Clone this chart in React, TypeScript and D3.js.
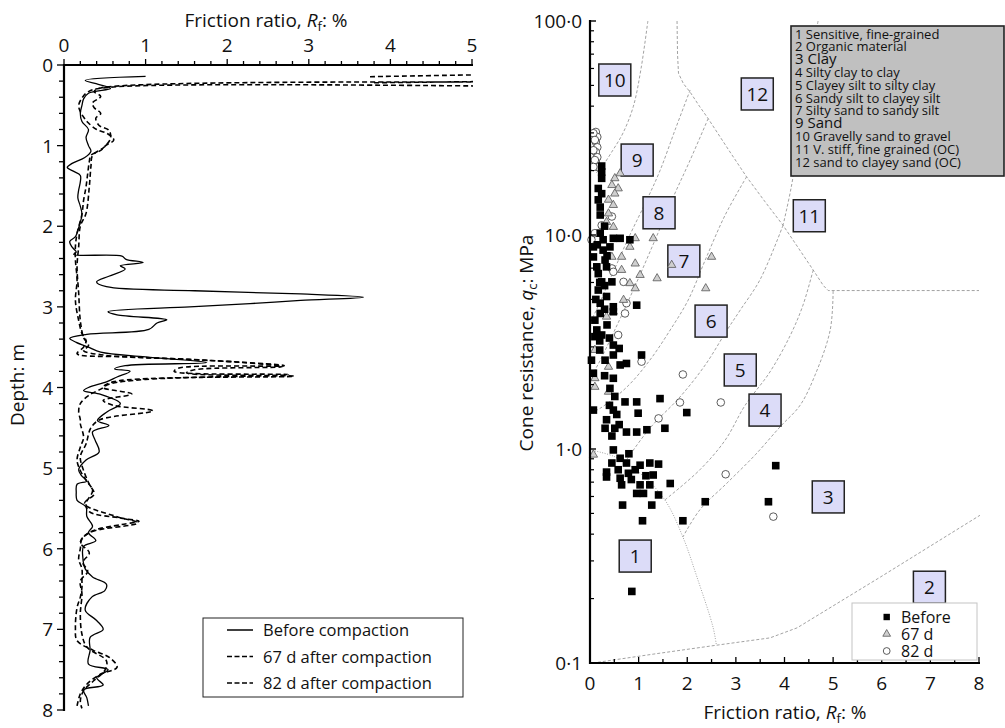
import React from 'react';
import * as d3 from 'd3';

type P = [number, number];

// ---------------- Left panel: friction ratio profiles [Rf %, depth m] ----------------
const beforeProfile: P[] = [
  [1.0, 0.14], [0.26, 0.19], [0.42, 0.24], [0.57, 0.29], [0.30, 0.35], [0.24, 0.42], [0.22, 0.5], [0.2, 0.6],
  [0.22, 0.7], [0.3, 0.8], [0.27, 0.9], [0.3, 1.0], [0.33, 1.07], [0.25, 1.15], [0.1, 1.22], [0.04, 1.27],
  [0.12, 1.32], [0.2, 1.37], [0.2, 1.45], [0.18, 1.55], [0.17, 1.65], [0.2, 1.75], [0.22, 1.85], [0.2, 1.95],
  [0.17, 2.05], [0.14, 2.13], [0.07, 2.19], [0.1, 2.26], [0.15, 2.32], [0.12, 2.35], [0.71, 2.37], [0.76, 2.41],
  [0.97, 2.45], [0.69, 2.49], [0.75, 2.53], [0.55, 2.62], [0.40, 2.69], [0.52, 2.75], [1.6, 2.8], [2.9, 2.84],
  [3.67, 2.88], [2.9, 2.92], [2.28, 2.96], [1.54, 3.0], [0.54, 3.06], [0.65, 3.1], [1.26, 3.16], [1.14, 3.2],
  [1.04, 3.28], [0.28, 3.34], [0.07, 3.39], [0.15, 3.44], [0.3, 3.5], [0.45, 3.56], [1.0, 3.62], [1.75, 3.69],
  [0.75, 3.73], [0.62, 3.77], [0.81, 3.8], [0.65, 3.87], [0.52, 3.93], [0.3, 4.0], [0.24, 4.04], [0.43, 4.08],
  [0.69, 4.2], [0.53, 4.3], [0.41, 4.41], [0.55, 4.47], [0.35, 4.55], [0.38, 4.65], [0.43, 4.8], [0.27, 4.9],
  [0.18, 5.02], [0.22, 5.1], [0.28, 5.16], [0.16, 5.2], [0.15, 5.3], [0.16, 5.4], [0.27, 5.48], [0.28, 5.6],
  [0.35, 5.72], [0.3, 5.8], [0.39, 5.9], [0.24, 5.97], [0.23, 6.1], [0.26, 6.25], [0.35, 6.35], [0.52, 6.44],
  [0.5, 6.52], [0.34, 6.6], [0.26, 6.76], [0.4, 6.89], [0.48, 7.0], [0.32, 7.1], [0.32, 7.26], [0.3, 7.43],
  [0.54, 7.5], [0.4, 7.6], [0.48, 7.69], [0.24, 7.75], [0.28, 7.85], [0.3, 7.95],
];

const after67Profile: P[] = [
  [3.75, 0.145], [40, 0.15], [40, 0.27], [0.57, 0.275], [0.30, 0.33], [0.22, 0.41], [0.18, 0.5], [0.2, 0.58],
  [0.25, 0.66], [0.3, 0.72], [0.4, 0.8], [0.53, 0.85], [0.61, 0.93], [0.51, 1.0], [0.45, 1.06], [0.33, 1.12],
  [0.31, 1.2], [0.29, 1.35], [0.27, 1.51], [0.24, 1.68], [0.22, 1.85], [0.16, 2.09], [0.14, 2.25], [0.14, 2.42],
  [0.16, 2.67], [0.14, 2.92], [0.18, 3.17], [0.22, 3.33], [0.27, 3.42], [0.24, 3.5], [0.16, 3.58], [0.8, 3.62],
  [1.7, 3.66], [2.7, 3.73], [1.4, 3.76], [1.35, 3.8], [2.75, 3.84], [1.0, 3.9], [0.55, 3.96], [0.45, 4.02],
  [0.3, 4.1], [0.2, 4.2], [0.18, 4.3], [0.2, 4.4], [0.2, 4.45], [0.24, 4.62], [0.2, 4.74], [0.16, 4.9],
  [0.2, 5.03], [0.27, 5.15], [0.35, 5.28], [0.27, 5.44], [0.31, 5.54], [0.7, 5.62], [0.92, 5.66], [0.7, 5.7],
  [0.35, 5.78], [0.22, 5.88], [0.2, 6.0], [0.18, 6.13], [0.22, 6.25], [0.22, 6.4], [0.22, 6.48], [0.2, 6.6],
  [0.16, 6.73], [0.14, 6.98], [0.16, 7.14], [0.36, 7.26], [0.56, 7.35], [0.65, 7.47], [0.44, 7.56], [0.28, 7.68],
  [0.2, 7.8], [0.16, 7.95],
];

const after82Profile: P[] = [
  [3.8, 0.22], [40, 0.225], [40, 0.27], [0.45, 0.285], [0.37, 0.33], [0.45, 0.39], [0.35, 0.47], [0.37, 0.53],
  [0.45, 0.6], [0.39, 0.66], [0.43, 0.75], [0.55, 0.81], [0.57, 0.91], [0.49, 1.02], [0.35, 1.12], [0.33, 1.26],
  [0.31, 1.51], [0.27, 1.84], [0.2, 2.0], [0.18, 2.25], [0.16, 2.5], [0.18, 2.83], [0.2, 3.17], [0.24, 3.38],
  [0.3, 3.48], [0.24, 3.54], [0.5, 3.6], [1.5, 3.65], [2.2, 3.69], [2.68, 3.74], [1.6, 3.78], [1.5, 3.82],
  [2.82, 3.86], [0.6, 3.93], [0.48, 4.0], [0.83, 4.08], [0.48, 4.16], [0.6, 4.22], [1.09, 4.29], [0.44, 4.4],
  [0.33, 4.5], [0.27, 4.7], [0.2, 4.86], [0.24, 5.03], [0.31, 5.2], [0.37, 5.32], [0.25, 5.44], [0.64, 5.6],
  [0.9, 5.68], [0.31, 5.8], [0.2, 5.92], [0.31, 6.05], [0.23, 6.17], [0.29, 6.28], [0.2, 6.4], [0.22, 6.56],
  [0.2, 6.81], [0.22, 7.06], [0.28, 7.22], [0.52, 7.39], [0.5, 7.51], [0.36, 7.64], [0.24, 7.76], [0.2, 7.89],
  [0.22, 7.98],
];

const leftXTicks = [0, 1, 2, 3, 4, 5];
const leftYTicks = [0, 1, 2, 3, 4, 5, 6, 7, 8];
const leftLegend = ['Before compaction', '67 d after compaction', '82 d after compaction'];

// ---------------- Right panel: qc vs Rf classification [Rf %, qc MPa] ----------------
const beforePoints: P[] = [
  [0.24, 21], [0.24, 19.7], [0.24, 18.4], [0.17, 16.5], [0.24, 15.6], [0.17, 14.6], [0.21, 13.5], [0.21, 12.4],
  [0.3, 11], [0.21, 10.2], [0.27, 9.5], [0.48, 9.65], [0.62, 9.65], [0.82, 9.5], [0.07, 8.8], [0.15, 9.0],
  [0.27, 8.5], [0.41, 8.8], [0.07, 7.9], [0.35, 8.0], [0.31, 7.64], [0.14, 7.1], [0.34, 7.1], [0.17, 6.6],
  [0.24, 6.04], [0.45, 6.04], [0.2, 6.0], [0.3, 5.8], [0.17, 5.53], [0.34, 5.16], [0.12, 5.0], [0.21, 4.8],
  [0.48, 4.62], [0.3, 4.5], [0.48, 4.38], [0.96, 4.7], [0.21, 4.3], [0.1, 4.0], [0.35, 3.8], [0.14, 3.6],
  [0.24, 3.41], [0.1, 3.35], [0.4, 3.3], [0.2, 3.2], [0.48, 3.06], [0.6, 2.95], [0.2, 2.9], [0.48, 2.75],
  [1.06, 2.75], [0.31, 2.6], [0.62, 2.47], [0.75, 2.51], [0.03, 2.6], [0.07, 2.26], [0.3, 2.2], [0.48, 2.14],
  [0.41, 1.92], [0.51, 1.76], [0.72, 1.66], [0.96, 1.66], [1.44, 1.72], [0.4, 1.6], [0.99, 1.47], [1.99, 1.48],
  [0.07, 1.52], [0.48, 1.52], [0.55, 1.45], [0.34, 1.37], [0.6, 1.3], [0.31, 1.25], [0.51, 1.25], [0.75, 1.2],
  [0.96, 1.2], [1.17, 1.23], [1.54, 1.25], [0.45, 1.15], [0.48, 0.99], [0.8, 0.95], [0.62, 0.905], [0.45, 0.86],
  [0.75, 0.86], [1.03, 0.84], [1.23, 0.86], [1.41, 0.85], [0.34, 0.78], [0.58, 0.8], [0.79, 0.77], [0.93, 0.8],
  [1.3, 0.756], [0.34, 0.74], [0.62, 0.73], [0.85, 0.72], [1.15, 0.75], [0.65, 0.68], [1.03, 0.68], [1.23, 0.68],
  [1.65, 0.69], [0.96, 0.62], [1.1, 0.62], [1.41, 0.61], [2.37, 0.567], [3.67, 0.567], [3.82, 0.836],
  [0.67, 0.547], [1.27, 0.547], [1.08, 0.462], [1.91, 0.462], [0.86, 0.216],
];

const d67Points: P[] = [
  [0.51, 18.4], [0.62, 19.4], [0.45, 17.1], [0.58, 16.5], [0.51, 15.6], [0.38, 14.6], [0.48, 13.8], [0.38, 12.6],
  [0.34, 11.5], [0.48, 10.9], [0.93, 9.65], [1.3, 9.65], [0.82, 8.8], [0.45, 7.9], [0.65, 7.9], [0.93, 7.35],
  [1.68, 7.24], [2.5, 7.9], [0.65, 6.86], [1.03, 6.5], [1.38, 6.27], [0.82, 5.95], [0.93, 5.63], [2.38, 5.63],
  [0.69, 4.97], [0.48, 4.38], [0.34, 4.15], [0.1, 2.9], [0.38, 2.42], [0.1, 2.14], [0.1, 1.95], [0.38, 1.85],
  [0.07, 0.94],
];

const d82Points: P[] = [
  [0.12, 30.3], [0.15, 28.7], [0.12, 27.2], [0.15, 25.7], [0.12, 24.4], [0.15, 23.1], [0.12, 21.9], [0.15, 20.8],
  [0.07, 29.9], [0.1, 27.8], [0.07, 24.9], [0.1, 22.4], [0.07, 20.8], [0.45, 12.2], [0.24, 11.1], [0.1, 10.2],
  [0.03, 9.5], [0.45, 6.98], [0.48, 6.73], [0.69, 6.04], [0.75, 4.8], [0.72, 4.3], [0.58, 3.41], [1.06, 2.56],
  [1.91, 2.23], [1.85, 1.65], [2.69, 1.65], [1.41, 1.39], [2.79, 0.762], [3.77, 0.483],
];

// zone boundaries (smooth curves)
const zoneCurves: P[][] = [
  [[1.19, 100], [1.05, 60], [0.89, 39.8], [0.68, 30], [0.47, 24.9], [0.24, 20.8], [0.1, 19.3]],
  [[2.06, 47.6], [1.75, 31], [1.44, 20], [1.17, 14.6], [0.82, 10], [0.45, 6.5], [0.14, 4.5], [0, 3.9]],
  [[2.43, 35], [2.06, 22.4], [1.71, 15], [1.34, 9.5], [0.93, 5.8], [0.51, 3.6], [0.16, 2.47], [0, 2.15]],
  [[3.22, 18.7], [2.78, 12.4], [2.37, 7.64], [2.02, 4.97], [1.65, 3.6], [1.23, 2.6], [0.76, 1.95], [0.21, 1.55], [0, 1.47]],
  [[3.97, 11.1], [3.5, 6.2], [3.09, 4.46], [2.82, 3.6], [2.37, 2.47], [1.85, 1.75], [1.23, 1.25], [0.72, 0.87]],
  [[4.59, 6.86], [4.38, 4.7], [4.12, 3.4], [3.7, 2.29], [3.19, 1.6], [2.78, 1.1], [2.26, 0.8], [1.54, 0.578]],
  [[5.0, 5.47], [4.94, 3.6], [4.63, 2.22], [4.32, 1.6], [3.91, 1.27], [3.4, 0.94], [2.82, 0.694], [2.26, 0.52], [1.91, 0.388]],
  [[4.69, 100], [4.42, 42.7], [4.14, 16.8], [3.97, 11.1]],
];
// straight-segment boundaries
const zoneLines: P[][] = [
  [[1.79, 100], [1.8, 70], [1.82, 57], [1.92, 51], [2.06, 46.5], [2.25, 40], [2.43, 35], [2.85, 25], [3.22, 18.7],
   [3.6, 14.3], [3.97, 11.1], [4.3, 8.6], [4.59, 6.86], [4.8, 5.8], [4.9, 5.5], [8, 5.5]],
  [[0.06, 0.1], [1.3, 0.11], [2.59, 0.121], [3.7, 0.131], [4.26, 0.146], [5.97, 0.252], [8.02, 0.49]],
];
const zone1Line: P[] = [[0, 0.99], [0.51, 0.92], [1.03, 0.77], [1.54, 0.578], [1.91, 0.388], [2.2, 0.252], [2.53, 0.147], [2.6, 0.121]];

const zoneLabels: { id: string; rf: number; q: number }[] = [
  { id: '10', rf: 0.51, q: 53 }, { id: '9', rf: 0.97, q: 22.4 }, { id: '8', rf: 1.42, q: 12.7 },
  { id: '7', rf: 1.93, q: 7.56 }, { id: '6', rf: 2.49, q: 3.96 }, { id: '5', rf: 3.09, q: 2.34 },
  { id: '4', rf: 3.6, q: 1.52 }, { id: '3', rf: 4.9, q: 0.597 }, { id: '1', rf: 0.93, q: 0.316 },
  { id: '2', rf: 6.98, q: 0.226 }, { id: '11', rf: 4.51, q: 12.3 }, { id: '12', rf: 3.44, q: 45.6 },
];

const zoneNames = [
  '1 Sensitive, fine-grained', '2 Organic material', '3 Clay', '4 Silty clay to clay',
  '5 Clayey silt to silty clay', '6 Sandy silt to clayey silt', '7 Silty sand to sandy silt', '9 Sand',
  '10 Gravelly sand to gravel', '11 V. stiff, fine grained (OC)', '12 sand to clayey sand (OC)',
];
const bigNames = ['3 Clay', '9 Sand'];

const rightXTicks = [0, 1, 2, 3, 4, 5, 6, 7, 8];
const rightYTicks = [0.1, 1, 10, 100];
const rightYTickLabels = ['0·1', '1·0', '10·0', '100·0'];
const rightLegend = ['Before', '67 d', '82 d'];

const FONT = "'Open Sans', 'Noto Sans', 'DejaVu Sans', sans-serif";

export default function App() {
  // left scales
  const lx = d3.scaleLinear().domain([0, 5]).range([64, 472]);
  const ly = d3.scaleLinear().domain([0, 8]).range([65, 710]);
  // right scales
  const rx = d3.scaleLinear().domain([0, 8]).range([590, 979]);
  const ry = d3.scaleLog().domain([0.1, 100]).range([663, 21]);

  const profLine = d3.line<P>().x(d => lx(d[0])).y(d => ly(d[1])).curve(d3.curveCatmullRom.alpha(0.5));
  const smooth = d3.line<P>().x(d => rx(d[0])).y(d => ry(d[1])).curve(d3.curveCatmullRom.alpha(0.5));
  const straight = d3.line<P>().x(d => rx(d[0])).y(d => ry(d[1]));

  const lxMinor = d3.range(0, 5.0001, 0.2);
  const lyMinor = d3.range(0, 8.0001, 0.2);
  const rxMinor = d3.range(0, 8.0001, 0.5);
  const ryMinor: number[] = [];
  [0.1, 1, 10].forEach(dec => { for (let k = 2; k <= 9; k++) ryMinor.push(dec * k); });

  const tri = d3.symbol(d3.symbolTriangle, 30)() as string;
  const triSmall = d3.symbol(d3.symbolTriangle, 26)() as string;

  return (
    <svg width={1005} height={728} style={{ position: 'absolute', left: 0, top: 0, background: '#fff' }}
      fontFamily={FONT}>
      <defs>
        <clipPath id="leftClip"><rect x={64} y={60} width={409} height={655} /></clipPath>
        <clipPath id="rightClip"><rect x={590} y={18} width={392} height={646} /></clipPath>
      </defs>
      <rect x={0} y={0} width={1005} height={728} fill="#fff" />

      {/* ================= LEFT PANEL ================= */}
      <text x={266} y={27} fontSize={19} textAnchor="middle" fill="#111">
        Friction ratio, <tspan fontStyle="italic">R</tspan><tspan fontSize={13} dy={4}>f</tspan><tspan dy={-4}>: %</tspan>
      </text>
      {leftXTicks.map(t => (
        <text key={'lxt' + t} x={lx(t)} y={52} fontSize={19} textAnchor="middle" fill="#111">{t}</text>
      ))}
      {leftYTicks.map(t => (
        <text key={'lyt' + t} x={53} y={ly(t) + 7} fontSize={19} textAnchor="end" fill="#111">{t}</text>
      ))}
      <text transform={`translate(24,385) rotate(-90)`} fontSize={19} textAnchor="middle" fill="#111">Depth: m</text>

      {lxMinor.map((t, i) => (
        <line key={'lxm' + i} x1={lx(t)} x2={lx(t)} y1={65} y2={i % 5 === 0 ? 59 : 61} stroke="#000" strokeWidth={1.3} />
      ))}
      {lyMinor.map((t, i) => (
        <line key={'lym' + i} x1={64} x2={i % 5 === 0 ? 57 : 59} y1={ly(t)} y2={ly(t)} stroke="#000" strokeWidth={1.3} />
      ))}

      <g clipPath="url(#leftClip)" fill="none">
        <path d={profLine(after67Profile) || ''} stroke="#000" strokeWidth={1.6} strokeDasharray="5,3" />
        <path d={profLine(after82Profile) || ''} stroke="#000" strokeWidth={1.6} strokeDasharray="5,3" />
        <path d={profLine(beforeProfile) || ''} stroke="#000" strokeWidth={1.3} />
      </g>
      <line x1={64} x2={473} y1={65} y2={65} stroke="#000" strokeWidth={2.2} />
      <line x1={64} x2={64} y1={64} y2={711} stroke="#000" strokeWidth={2.2} />

      <rect x={203} y={618} width={260} height={79} fill="#fff" stroke="#222" strokeWidth={1} />
      {leftLegend.map((name, i) => {
        const y = 630 + i * 26.5;
        return (
          <g key={'ll' + i}>
            <line x1={227} x2={253} y1={y} y2={y} stroke="#000" strokeWidth={1.5}
              strokeDasharray={i === 0 ? undefined : '5,2.5'} />
            <text x={263} y={y + 6} fontSize={16.5} fill="#111">{name}</text>
          </g>
        );
      })}

      {/* ================= RIGHT PANEL ================= */}
      <g clipPath="url(#rightClip)" fill="none" stroke="#8a8a8a" strokeWidth={0.8}>
        {zoneCurves.map((c, i) => (
          <path key={'zc' + i} d={smooth(c) || ''} strokeDasharray="3,2" />
        ))}
        {zoneLines.map((c, i) => (
          <path key={'zl' + i} d={straight(c) || ''} strokeDasharray="3,2" />
        ))}
        <path d={smooth(zone1Line) || ''} strokeDasharray="1,1.5" />
      </g>

      {zoneLabels.map(z => (
        <g key={'zlab' + z.id}>
          <rect x={rx(z.rf) - 16} y={ry(z.q) - 16} width={32} height={32} fill="#dcdcf8" stroke="#222" strokeWidth={1.5} />
          <text x={rx(z.rf)} y={ry(z.q) + 7} fontSize={19} textAnchor="middle" fill="#111">{z.id}</text>
        </g>
      ))}

      {/* markers */}
      {d82Points.map((p, i) => (
        <circle key={'c' + i} cx={rx(p[0])} cy={ry(p[1])} r={3.8} fill="#fff" stroke="#333" strokeWidth={0.8} />
      ))}
      {d67Points.map((p, i) => (
        <path key={'t' + i} d={tri} transform={`translate(${rx(p[0])},${ry(p[1])})`} fill="#cfcfcf" stroke="#555" strokeWidth={0.8} />
      ))}
      {beforePoints.map((p, i) => (
        <rect key={'s' + i} x={rx(p[0]) - 3.8} y={ry(p[1]) - 3.8} width={7.6} height={7.6} fill="#000" />
      ))}

      {/* axes */}
      {ryMinor.map((t, i) => (
        <line key={'rym' + i} x1={590} x2={594} y1={ry(t)} y2={ry(t)} stroke="#000" strokeWidth={1.2} />
      ))}
      {rightYTicks.map((t, i) => (
        <g key={'ryt' + i}>
          <line x1={590} x2={596} y1={ry(t)} y2={ry(t)} stroke="#000" strokeWidth={1.4} />
          <text x={582} y={ry(t) + 7} fontSize={19} textAnchor="end" fill="#111">{rightYTickLabels[i]}</text>
        </g>
      ))}
      {rxMinor.map((t, i) => (
        <line key={'rxm' + i} x1={rx(t)} x2={rx(t)} y1={663} y2={i % 2 === 0 ? 657 : 659} stroke="#000" strokeWidth={1.3} />
      ))}
      {rightXTicks.map(t => (
        <text key={'rxt' + t} x={rx(t)} y={690} fontSize={19} textAnchor="middle" fill="#111">{t}</text>
      ))}
      <line x1={590} x2={590} y1={20} y2={664} stroke="#000" strokeWidth={2.2} />
      <line x1={589} x2={980} y1={663} y2={663} stroke="#000" strokeWidth={2.2} />

      <text x={785} y={719} fontSize={19} textAnchor="middle" fill="#111">
        Friction ratio, <tspan fontStyle="italic">R</tspan><tspan fontSize={13} dy={4}>f</tspan><tspan dy={-4}>: %</tspan>
      </text>
      <text transform={`translate(533,343) rotate(-90)`} fontSize={19} textAnchor="middle" fill="#111">
        Cone resistance, <tspan fontStyle="italic">q</tspan><tspan fontSize={13} dy={4}>c</tspan><tspan dy={-4}>: MPa</tspan>
      </text>

      {/* zone description box */}
      <rect x={791} y={26} width={213} height={150} fill="#c0c0c0" stroke="#222" strokeWidth={1.6} />
      {zoneNames.map((n, i) => (
        <text key={'zn' + i} x={795} y={38.5 + i * 12.8} fontSize={bigNames.includes(n) ? 15 : 13} fill="#111">{n}</text>
      ))}

      {/* marker legend */}
      <rect x={852} y={603} width={125} height={57} fill="#fff" stroke="#c4c4c4" strokeWidth={1} />
      {rightLegend.map((name, i) => {
        const y = 617 + i * 17;
        return (
          <g key={'rl' + i}>
            {i === 0 && <rect x={883.5} y={y - 3.2} width={6.4} height={6.4} fill="#000" />}
            {i === 1 && <path d={triSmall} transform={`translate(886.7,${y})`} fill="#cfcfcf" stroke="#555" strokeWidth={0.8} />}
            {i === 2 && <circle cx={886.7} cy={y} r={3.4} fill="#fff" stroke="#333" strokeWidth={0.8} />}
            <text x={901} y={y + 6} fontSize={16} fill="#111">{name}</text>
          </g>
        );
      })}
    </svg>
  );
}
